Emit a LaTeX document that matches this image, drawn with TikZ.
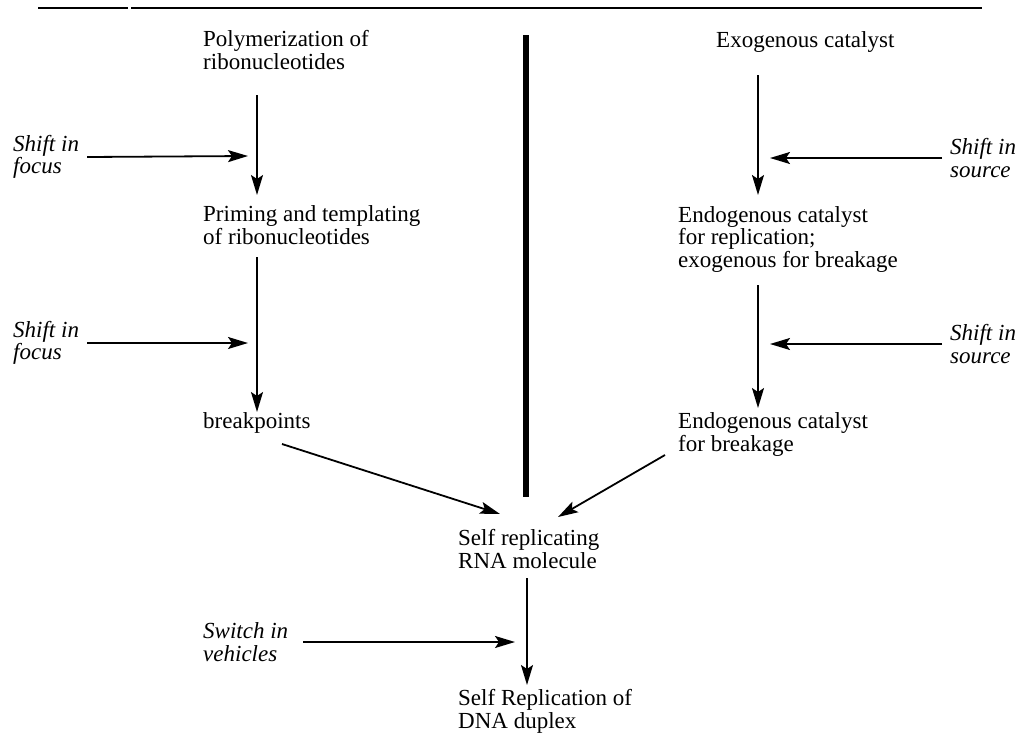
\documentclass[tikz,border=0pt]{standalone}
\usepackage{fontspec}
\setmainfont{Liberation Serif}
\usetikzlibrary{arrows.meta}

\begin{document}
\begin{tikzpicture}[x=1pt, y=-1pt,
  lbl/.style={anchor=base west, align=left, inner sep=0, font=\fontsize{23}{22.5}\selectfont},
  side/.style={lbl, anchor=west, font=\fontsize{23}{22.5}\selectfont\itshape},
  flow/.style={line width=1.8pt, -{Stealth[length=20pt, width=12pt, inset=4pt]}}]
\useasboundingbox (0,0) rectangle (1021,753);

% rule and divider
\draw[line width=1.6pt] (38,8) -- (128,8);
\draw[line width=1.6pt] (131,8) -- (982,8);
\draw[line width=6pt] (526,35) -- (526,497);

% left column
\node[lbl] (poly) at (203,69) {Polymerization of\\ribonucleotides};
\node[lbl] (prim) at (203,244) {Priming and templating\\of ribonucleotides};
\node[lbl] (brk) at (203,428) {breakpoints};
\node[side] (focusA) at (13,157) {Shift in\\focus};
\node[side] (focusB) at (13,343) {Shift in\\focus};
\coordinate (inA) at (248,156);
\coordinate (inB) at (248,343);
\draw[flow] ([shift={(54,26)}]poly.base west) -- ([shift={(54,-49)}]prim.base west);
\draw[flow] ([shift={(54,13)}]prim.base west) -- ([shift={(54,-16)}]brk.base west);
\draw[flow] ([xshift=8pt]focusA.east) -- (inA);
\draw[flow] ([xshift=8pt]focusB.east) -- (inB);

% right column
\node[lbl] (exo) at (716,47) {Exogenous catalyst};
\node[lbl] (endorep) at (678,267) {Endogenous catalyst\\for replication;\\exogenous for breakage};
\node[lbl] (endobrk) at (678,451) {Endogenous catalyst\\for breakage};
\node[side] (sourceA) at (950,158) {Shift in\\source};
\node[side] (sourceB) at (950,344) {Shift in\\source};
\coordinate (inC) at (770,158);
\coordinate (inD) at (770,344);
\draw[flow] ([shift={(42,28)}]exo.base west) -- ([shift={(80,-72)}]endorep.base west);
\draw[flow] ([shift={(80,18)}]endorep.base west) -- ([shift={(80,-43)}]endobrk.base west);
\draw[flow] ([xshift=-8pt]sourceA.west) -- (inC);
\draw[flow] ([xshift=-8pt]sourceB.west) -- (inD);

% bottom
\node[lbl] (rna) at (458,568) {Self replicating\\RNA molecule};
\node[lbl] (dna) at (458,728) {Self Replication of\\DNA duplex};
\node[side] (vehic) at (203,642) {Switch in\\vehicles};
\coordinate (inV) at (515,642);
\draw[flow] ([shift={(79,16)}]brk.base west) -- ([shift={(42,-54)}]rna.base west);
\draw[flow] ([shift={(-13,4)}]endobrk.base west) -- ([shift={(100,-51)}]rna.base west);
\draw[flow] ([shift={(69,10)}]rna.base west) -- ([shift={(69,-43)}]dna.base west);
\draw[flow] ([xshift=15pt]vehic.east) -- (inV);

\end{tikzpicture}
\end{document}
